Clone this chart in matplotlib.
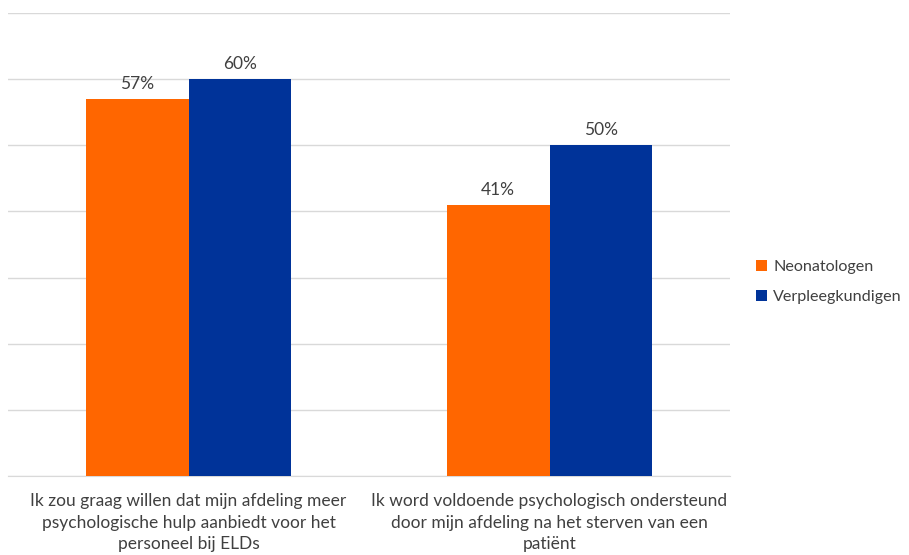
import numpy as np
import matplotlib.pyplot as plt

plt.rcParams['font.family'] = ['Lato', 'DejaVu Sans']

categories = ["Ik zou graag willen dat mijn afdeling meer\npsychologische hulp aanbiedt voor het\npersoneel bij ELDs",
              "Ik word voldoende psychologisch ondersteund\ndoor mijn afdeling na het sterven van een\npatiënt"]
neonatologen = [57, 41]
verpleegkundigen = [60, 50]
series_names = ["Neonatologen", "Verpleegkundigen"]

orange = "#FF6600"
blue = "#003399"
txt = "#404040"
fs = 12.5

fig = plt.figure(figsize=(9.09, 5.55), dpi=100)
ax = fig.add_axes([8/909, 1-476/555, 722/909, 463/555])

x = np.arange(len(categories))
w = 0.285
b1 = ax.bar(x - w/2, neonatologen, w, color=orange, label=series_names[0], zorder=3)
b2 = ax.bar(x + w/2, verpleegkundigen, w, color=blue, label=series_names[1], zorder=3)

for bars, vals in [(b1, neonatologen), (b2, verpleegkundigen)]:
    for r, v in zip(bars, vals):
        ax.text(r.get_x() + r.get_width()/2, v + 1.1, f"{v}%", ha="center", va="bottom",
                fontsize=fs, color=txt)

ax.set_xlim(-0.5, 1.5)
ax.set_ylim(0, 70)
ax.set_yticks(np.arange(0, 71, 10))
ax.yaxis.grid(True, color="#D9D9D9", linewidth=1, zorder=0)
ax.tick_params(axis="y", left=False, labelleft=False)
ax.tick_params(axis="x", length=0, pad=12)
ax.set_xticks(x)
ax.set_xticklabels(categories, fontsize=fs, color=txt, linespacing=1.45)
for s in ["top", "right", "left"]:
    ax.spines[s].set_visible(False)
ax.spines["bottom"].set_color("#D9D9D9")

leg = fig.legend(handles=[b1, b2], labels=series_names, loc="center left",
                 bbox_to_anchor=(741/909, 1-282/555), frameon=False, fontsize=11.6,
                 handlelength=0.7, handleheight=0.7, handletextpad=0.4, labelspacing=0.95)
for t in leg.get_texts():
    t.set_color(txt)

fig.savefig("out.png", dpi=100)
